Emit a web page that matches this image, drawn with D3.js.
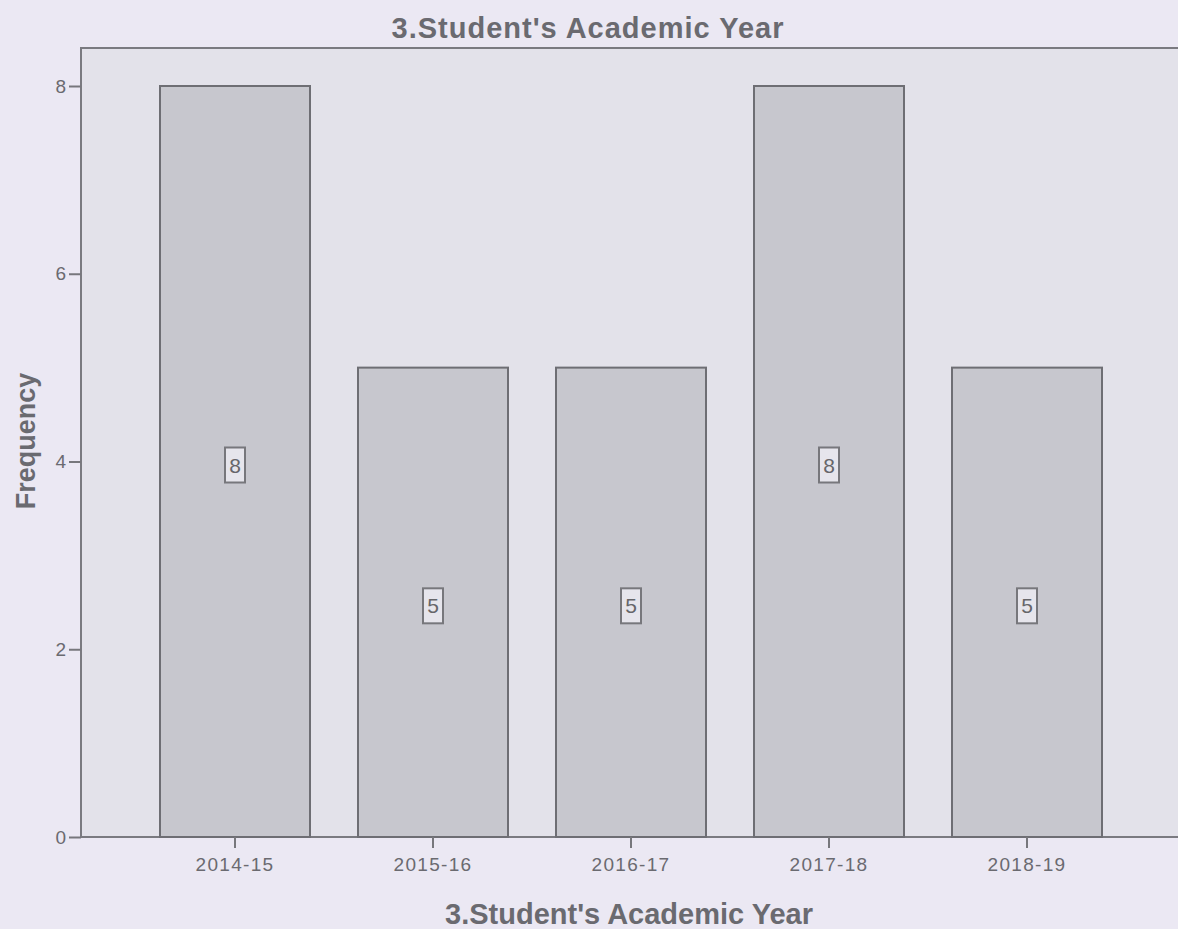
<!DOCTYPE html>
<html><head><meta charset="utf-8">
<script src="https://cdn.jsdelivr.net/npm/d3@7"></script>
<style>
html,body{margin:0;padding:0;background:#ebe8f3;}
svg{display:block;font-family:"Liberation Sans",Arial,sans-serif;}
</style></head>
<body>
<script>
const categories = ["2014-15","2015-16","2016-17","2017-18","2018-19"];
const frequencies = [8,5,5,8,5];
const yTicks = [0,2,4,6,8];
const chartTitle = "3.Student's Academic Year";
const xTitle = "3.Student's Academic Year";
const yTitle = "Frequency";

(function(){
const W = 1178, H = 929;
const pLeft = 81, pTop = 48, pBottom = 837, pRight = 1190;

const svg = d3.select("body").append("svg").attr("width", W).attr("height", H);
svg.append("rect").attr("width", W).attr("height", H).attr("fill", "#ebe8f3");

// plot area
svg.append("rect").attr("x", pLeft).attr("y", pTop).attr("width", pRight - pLeft).attr("height", pBottom - pTop)
  .attr("fill", "#e3e2ea").attr("stroke", "#7a7a80").attr("stroke-width", 2);

const x = d3.scaleBand().domain(categories).range([136, 1126])
  .paddingInner(48/198).paddingOuter(24/198);
const y = d3.scaleLinear().domain([0, 8]).range([pBottom, 86]);

// bars
svg.append("g").selectAll("rect").data(categories).join("rect")
  .attr("x", d => x(d)).attr("y", (d,i) => y(frequencies[i]))
  .attr("width", x.bandwidth()).attr("height", (d,i) => y(0) - y(frequencies[i]))
  .attr("fill", "#c7c7ce").attr("stroke", "#6e6e74").attr("stroke-width", 2);

// value labels
const lab = svg.append("g").selectAll("g").data(categories).join("g")
  .attr("transform", (d,i) => `translate(${x(d) + x.bandwidth()/2},${y(frequencies[i]/2) + 3})`);
lab.append("rect").attr("x", -10).attr("y", -17).attr("width", 20).attr("height", 35)
  .attr("fill", "#e6e5ec").attr("stroke", "#77777c").attr("stroke-width", 2);
lab.append("text").attr("text-anchor", "middle").attr("y", 8)
  .attr("font-size", 21).attr("fill", "#66666a").text((d,i) => frequencies[i]);

// y axis
const ya = svg.append("g").attr("transform", `translate(${pLeft},0)`)
  .call(d3.axisLeft(y).tickValues(yTicks).tickSize(12).tickPadding(3).tickFormat(d3.format("d")));
ya.select(".domain").remove();
ya.selectAll("line").attr("stroke", "#77777c").attr("stroke-width", 2);
ya.selectAll("text").attr("font-size", 19).attr("fill", "#6a6a70").attr("font-family", null);

// x axis
const xa = svg.append("g").attr("transform", `translate(0,${pBottom})`)
  .call(d3.axisBottom(x).tickSize(11).tickPadding(10));
xa.select(".domain").remove();
xa.selectAll("line").attr("stroke", "#77777c").attr("stroke-width", 2);
xa.selectAll("text").attr("font-size", 19).attr("letter-spacing", 1.3).attr("fill", "#6a6a70").attr("font-family", null);

// titles
svg.append("text").attr("x", 588).attr("y", 38).attr("text-anchor", "middle")
  .attr("font-size", 29).attr("letter-spacing", 1).attr("font-weight", "bold").attr("fill", "#6a6a70").text(chartTitle);
svg.append("text").attr("x", 629).attr("y", 924).attr("text-anchor", "middle")
  .attr("font-size", 29).attr("font-weight", "bold").attr("fill", "#6a6a70").text(xTitle);
svg.append("text").attr("transform", "translate(35,441) rotate(-90)").attr("text-anchor", "middle")
  .attr("font-size", 27).attr("font-weight", "bold").attr("fill", "#6a6a70").text(yTitle);
})();
</script>
</body></html>
